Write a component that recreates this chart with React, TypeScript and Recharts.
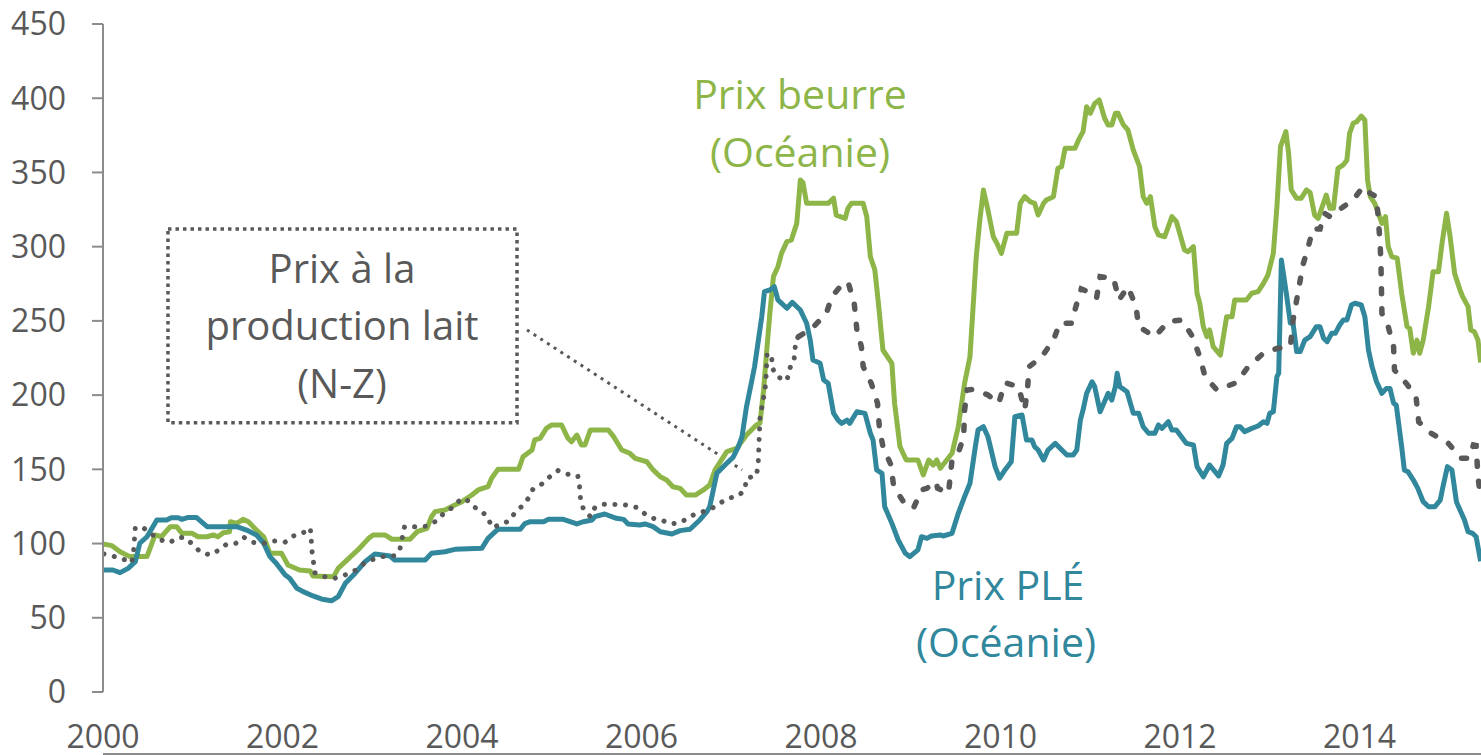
import React from "react";
import { LineChart, Line, XAxis, YAxis, ReferenceArea, ReferenceLine } from "recharts";

// Prix beurre (Océanie) : [année, indice]
const butter: [number, number][] = [
  [2000.0, 99.7], [2000.1, 98.6], [2000.19, 94.5], [2000.3, 91.2], [2000.49, 91.2], [2000.58, 105.8],
  [2000.65, 104.6], [2000.75, 111.4], [2000.82, 111.4], [2000.88, 106.9], [2000.99, 106.9], [2001.06, 104.6],
  [2001.16, 104.6], [2001.23, 105.8], [2001.28, 104.6], [2001.34, 107.3], [2001.41, 108], [2001.42, 114.7],
  [2001.49, 113.6], [2001.56, 116.3], [2001.62, 114.7], [2001.71, 109.1], [2001.79, 104.6], [2001.86, 93.4],
  [2001.99, 93.4], [2002.06, 85.6], [2002.19, 82.2], [2002.31, 81.5], [2002.34, 78.1], [2002.57, 77.7],
  [2002.62, 83.3], [2002.7, 87.8], [2002.84, 95.7], [2002.96, 103.5], [2003.01, 105.8], [2003.14, 105.8],
  [2003.22, 102.9], [2003.42, 102.9], [2003.5, 108], [2003.61, 110.2], [2003.66, 118.1], [2003.7, 121.5],
  [2003.81, 122.6], [2003.92, 126], [2004.0, 128.2], [2004.11, 132.7], [2004.18, 136.1], [2004.29, 138.3],
  [2004.33, 144], [2004.4, 150], [2004.63, 150], [2004.68, 158.5], [2004.78, 163], [2004.81, 169.8],
  [2004.87, 170.9], [2004.94, 177.6], [2005.0, 179.9], [2005.11, 179.9], [2005.18, 170.9], [2005.22, 168.6],
  [2005.28, 173.1], [2005.33, 166.4], [2005.37, 166.4], [2005.43, 176.5], [2005.63, 176.5], [2005.69, 172],
  [2005.78, 163], [2005.87, 160.8], [2005.93, 157.4], [2006.06, 155.1], [2006.13, 149.6], [2006.21, 145],
  [2006.28, 142.8], [2006.35, 138.3], [2006.43, 137.2], [2006.5, 132.7], [2006.6, 132.7], [2006.69, 136.1],
  [2006.76, 139.4], [2006.82, 149.6], [2006.95, 161.9], [2007.06, 164.1], [2007.17, 173.1], [2007.28, 179.9],
  [2007.32, 181], [2007.36, 203], [2007.39, 225.9], [2007.43, 255], [2007.47, 279.8], [2007.52, 286.5],
  [2007.56, 295.5], [2007.62, 303.4], [2007.67, 304.5], [2007.73, 315.7], [2007.77, 344.9], [2007.8, 343],
  [2007.84, 329.2], [2008.08, 329.2], [2008.14, 332.6], [2008.17, 321.3], [2008.27, 319.1], [2008.3, 325.8],
  [2008.34, 329.2], [2008.47, 329.2], [2008.51, 320.2], [2008.55, 293.3], [2008.6, 284.3], [2008.64, 261.9],
  [2008.69, 230.4], [2008.79, 221.4], [2008.82, 194.5], [2008.88, 165.3], [2008.95, 156.3], [2009.08, 156.3],
  [2009.14, 146.2], [2009.2, 156.3], [2009.25, 152.9], [2009.29, 156.3], [2009.33, 150.7], [2009.46, 160.8],
  [2009.53, 178.7], [2009.6, 208], [2009.66, 225.9], [2009.73, 293.3], [2009.77, 318], [2009.81, 338.2],
  [2009.86, 324.7], [2009.92, 306.7], [2009.96, 302.3], [2010.01, 295.5], [2010.07, 309], [2010.18, 309],
  [2010.22, 329.2], [2010.27, 333.7], [2010.33, 330.3], [2010.38, 329.2], [2010.42, 321.3], [2010.48, 329.2],
  [2010.51, 331.4], [2010.59, 333.7], [2010.64, 352.8], [2010.68, 353.9], [2010.72, 366.3], [2010.83, 366.3],
  [2010.87, 371.9], [2010.92, 377.5], [2010.96, 394.3], [2011.0, 389.8], [2011.05, 396.5], [2011.1, 398.8],
  [2011.16, 386.5], [2011.2, 382], [2011.24, 382], [2011.28, 389.8], [2011.31, 389.8], [2011.37, 382],
  [2011.42, 378.6], [2011.48, 365.1], [2011.55, 353.9], [2011.59, 333.7], [2011.63, 329.2], [2011.67, 333.7],
  [2011.72, 313.5], [2011.76, 307.9], [2011.83, 306.7], [2011.91, 320.2], [2011.96, 316.8], [2012.05, 297.8],
  [2012.09, 296.6], [2012.15, 300], [2012.19, 268.6], [2012.22, 261.9], [2012.26, 246.1], [2012.3, 239.4],
  [2012.33, 243.9], [2012.37, 232.6], [2012.45, 227], [2012.52, 252.8], [2012.58, 252.8], [2012.61, 264.1],
  [2012.74, 264.1], [2012.8, 268.6], [2012.87, 269.7], [2012.93, 275.3], [2012.98, 280.9], [2013.04, 295.5],
  [2013.08, 326.9], [2013.12, 367.4], [2013.18, 377.5], [2013.21, 362.9], [2013.24, 338.2], [2013.3, 332.6],
  [2013.35, 332.6], [2013.41, 338.2], [2013.45, 336.5], [2013.5, 321.3], [2013.54, 319.1], [2013.63, 334.8],
  [2013.67, 325.8], [2013.71, 325.8], [2013.76, 352.8], [2013.82, 355.1], [2013.86, 358.4], [2013.89, 376.4],
  [2013.93, 383.1], [2013.97, 384.2], [2014.02, 388], [2014.06, 385.3], [2014.09, 344.9], [2014.12, 333.7],
  [2014.17, 329.2], [2014.21, 322.5], [2014.25, 315.7], [2014.29, 320.2], [2014.32, 300], [2014.36, 293.3],
  [2014.42, 292.2], [2014.47, 268.6], [2014.53, 246.1], [2014.56, 245], [2014.6, 228.2], [2014.64, 237.1],
  [2014.67, 228.2], [2014.71, 237.1], [2014.77, 259.6], [2014.82, 283.1], [2014.88, 283.1], [2014.92, 302.3],
  [2014.97, 322.5], [2015.01, 306.7], [2015.06, 282], [2015.12, 270.8], [2015.15, 266.3], [2015.21, 259.6],
  [2015.24, 243.9], [2015.28, 242.7], [2015.32, 237.1], [2015.35, 222],
];

// Prix PLÉ (Océanie)
const wmp: [number, number][] = [
  [2000.0, 82.2], [2000.11, 82.2], [2000.19, 80.4], [2000.28, 83.3], [2000.36, 87.8], [2000.41, 100.2],
  [2000.49, 104.6], [2000.6, 115.9], [2000.71, 115.9], [2000.76, 117.4], [2000.84, 117.4], [2000.88, 116.3],
  [2000.95, 117.6], [2001.04, 117.6], [2001.16, 111.4], [2001.49, 111.4], [2001.6, 109.1], [2001.71, 105.8],
  [2001.79, 100.2], [2001.86, 91.2], [2001.93, 86.7], [2002.03, 78.8], [2002.08, 76.6], [2002.16, 69.9],
  [2002.23, 67.6], [2002.34, 64.7], [2002.44, 62.5], [2002.55, 61.5], [2002.62, 64.2], [2002.7, 73.2],
  [2002.81, 80], [2002.92, 87.8], [2003.03, 93], [2003.2, 91.6], [2003.25, 88.9], [2003.59, 88.9],
  [2003.66, 93.4], [2003.81, 94.5], [2003.92, 96.1], [2004.22, 96.8], [2004.29, 103.5], [2004.35, 106.9],
  [2004.4, 109.6], [2004.65, 109.6], [2004.7, 113.5], [2004.76, 114.7], [2004.91, 114.7], [2004.96, 116.3],
  [2005.13, 116.3], [2005.28, 113.2], [2005.35, 114.7], [2005.45, 115.9], [2005.48, 118.1], [2005.59, 119.9],
  [2005.72, 117], [2005.8, 116.3], [2005.85, 113.2], [2005.98, 112.5], [2006.04, 113.2], [2006.13, 111.4],
  [2006.21, 108], [2006.34, 106.4], [2006.43, 108.7], [2006.54, 109.6], [2006.65, 115.9], [2006.73, 121.5],
  [2006.76, 124.8], [2006.8, 136.1], [2006.84, 147.3], [2006.95, 154.1], [2007.02, 158.1], [2007.08, 165.3],
  [2007.12, 172], [2007.17, 192.2], [2007.23, 210], [2007.26, 219.2], [2007.34, 252.8], [2007.37, 269.7],
  [2007.43, 270.8], [2007.48, 273], [2007.52, 264.1], [2007.62, 258.5], [2007.68, 262.5], [2007.77, 257.3],
  [2007.84, 248.4], [2007.88, 237.1], [2007.91, 223.7], [2007.99, 221.4], [2008.03, 210.2], [2008.08, 208],
  [2008.14, 187.8], [2008.19, 183.2], [2008.23, 181], [2008.29, 183.2], [2008.32, 181], [2008.4, 188.8],
  [2008.49, 187.7], [2008.55, 174.3], [2008.58, 169.8], [2008.62, 149.6], [2008.68, 147.3], [2008.71, 124.8],
  [2008.79, 113.6], [2008.86, 102.4], [2008.94, 93.4], [2008.99, 91.2], [2009.08, 95.7], [2009.12, 104.6],
  [2009.18, 103.5], [2009.23, 105.1], [2009.33, 105.8], [2009.36, 105.1], [2009.46, 106.9], [2009.53, 120.4],
  [2009.6, 131.6], [2009.66, 140.6], [2009.72, 165.3], [2009.75, 176.5], [2009.81, 178.7], [2009.86, 172],
  [2009.94, 151.8], [2009.99, 144], [2010.05, 149.6], [2010.12, 155.1], [2010.16, 185.5], [2010.24, 186.6],
  [2010.29, 169.8], [2010.35, 169.8], [2010.38, 165.3], [2010.42, 163], [2010.48, 156.3], [2010.53, 163],
  [2010.61, 167.5], [2010.74, 159.7], [2010.81, 159.7], [2010.85, 163], [2010.89, 183.2], [2010.92, 190],
  [2010.96, 201.2], [2011.02, 209], [2011.05, 205.7], [2011.11, 188.8], [2011.2, 201.2], [2011.24, 196.7],
  [2011.28, 205.7], [2011.3, 214.7], [2011.33, 205.7], [2011.41, 202.3], [2011.48, 187.7], [2011.54, 187.7],
  [2011.59, 178.7], [2011.65, 174.3], [2011.72, 174.3], [2011.76, 179.9], [2011.8, 177.6], [2011.87, 182.1],
  [2011.91, 176.5], [2011.96, 176.5], [2012.07, 167.5], [2012.15, 166.4], [2012.19, 151.8], [2012.26, 145],
  [2012.33, 152.9], [2012.43, 145.5], [2012.48, 152.9], [2012.52, 167.5], [2012.58, 170.9], [2012.63, 178.7],
  [2012.67, 178.7], [2012.72, 175.4], [2012.8, 177.6], [2012.87, 179.2], [2012.93, 182.1], [2012.97, 181],
  [2013.0, 187.7], [2013.04, 188.8], [2013.08, 212.4], [2013.1, 214.7], [2013.13, 291], [2013.19, 266.3],
  [2013.23, 248.4], [2013.26, 248.4], [2013.3, 229.3], [2013.34, 229.3], [2013.39, 237.1], [2013.45, 239.4],
  [2013.52, 246.1], [2013.56, 246.1], [2013.6, 238.3], [2013.64, 236], [2013.69, 241.6], [2013.73, 241.6],
  [2013.78, 247.2], [2013.82, 250.6], [2013.86, 250.6], [2013.91, 260.7], [2013.95, 261.9], [2014.02, 260.7],
  [2014.06, 252.8], [2014.1, 230.4], [2014.14, 219.2], [2014.19, 209], [2014.25, 201.2], [2014.3, 204.5],
  [2014.34, 204.5], [2014.38, 194.5], [2014.41, 193.3], [2014.47, 165.3], [2014.5, 149.6], [2014.54, 148.4],
  [2014.6, 142.8], [2014.65, 137.2], [2014.71, 128.2], [2014.77, 124.8], [2014.84, 124.8], [2014.9, 129.3],
  [2014.93, 138.3], [2014.98, 151.8], [2015.03, 149.6], [2015.08, 128.2], [2015.12, 122.6], [2015.17, 115.9],
  [2015.21, 108], [2015.26, 106.9], [2015.3, 104.6], [2015.35, 88],
];

// Prix à la production lait (N-Z), première partie (pointillés)
const milkEarly: [number, number][] = [
  [2000.01, 93], [2000.13, 91.2], [2000.25, 88.9], [2000.32, 87.1], [2000.34, 94.5], [2000.36, 110.7],
  [2000.44, 111], [2000.53, 106.9], [2000.62, 102.9], [2000.74, 100.6], [2000.84, 104], [2000.91, 104],
  [2001.0, 99.5], [2001.08, 94.5], [2001.19, 92.3], [2001.28, 95.2], [2001.38, 99.7], [2001.48, 100.2],
  [2001.57, 104.2], [2001.67, 100.8], [2001.79, 100.2], [2001.91, 101.7], [2002.03, 101], [2002.12, 105.1],
  [2002.23, 107.3], [2002.31, 110.5], [2002.33, 94.5], [2002.36, 80.4], [2002.47, 77.7], [2002.58, 76.6],
  [2002.72, 79.3], [2002.82, 82.2], [2002.91, 86.7], [2003.01, 89.4], [2003.12, 91.2], [2003.25, 91.8],
  [2003.31, 96.8], [2003.36, 111.4], [2003.49, 111.4], [2003.61, 111.8], [2003.72, 115.4], [2003.79, 119.9],
  [2003.89, 124.2], [2003.97, 128.9], [2004.04, 130.5], [2004.11, 125.5], [2004.21, 122.1], [2004.29, 117.7],
  [2004.33, 111], [2004.42, 112.5], [2004.53, 115.4], [2004.59, 120.8], [2004.67, 125.3], [2004.74, 130.5],
  [2004.79, 136.5], [2004.89, 140.1], [2004.97, 144.6], [2005.07, 149.1], [2005.18, 146.7], [2005.29, 145.7],
  [2005.31, 138.3], [2005.32, 130.5], [2005.35, 123.8], [2005.43, 118.1], [2005.48, 124.2], [2005.58, 126.4],
  [2005.7, 126.4], [2005.82, 126], [2005.94, 124.4], [2006.04, 119.9], [2006.13, 117], [2006.24, 115.4],
  [2006.34, 113.2], [2006.45, 114.7], [2006.55, 118.6], [2006.65, 120.8], [2006.77, 123.1], [2006.87, 127.1],
  [2006.97, 130.5], [2007.08, 132.2], [2007.15, 136.1], [2007.17, 144], [2007.28, 145.7], [2007.3, 152.9],
  [2007.31, 168.6], [2007.32, 184.4], [2007.34, 191.1], [2007.36, 197.9], [2007.38, 205.7], [2007.39, 213.6],
  [2007.4, 228.2], [2007.45, 225.9], [2007.46, 218], [2007.51, 212.4], [2007.62, 209.8], [2007.65, 217.4],
  [2007.68, 222.5], [2007.7, 223.7], [2007.72, 237.1], [2007.75, 239.4],
];

// Prix à la production lait (N-Z), seconde partie (tirets)
const milkLate: [number, number][] = [
  [2007.75, 239.4], [2007.9, 245], [2008.06, 255.1], [2008.12, 266.3], [2008.23, 274.2], [2008.3, 276.4],
  [2008.37, 261.9], [2008.4, 243.9], [2008.45, 232.6], [2008.47, 219.2], [2008.56, 208], [2008.63, 194.5],
  [2008.65, 178.7], [2008.69, 165.3], [2008.78, 152.9], [2008.81, 138.3], [2008.93, 127.1], [2009.03, 123.8],
  [2009.12, 136.1], [2009.18, 137.2], [2009.28, 141.7], [2009.3, 137.2], [2009.42, 133.9], [2009.44, 145],
  [2009.46, 156.3], [2009.54, 163], [2009.59, 172], [2009.6, 190], [2009.63, 203.5], [2009.7, 203.9],
  [2009.86, 200.1], [2009.98, 194.5], [2010.05, 208.4], [2010.2, 205.7], [2010.27, 190], [2010.3, 203.5],
  [2010.32, 219.2], [2010.46, 225.9], [2010.59, 237.1], [2010.66, 248.4], [2010.79, 248.4], [2010.84, 259.6],
  [2010.9, 271.5], [2010.96, 270], [2011.07, 265.2], [2011.11, 279.8], [2011.26, 278.7], [2011.32, 264.1],
  [2011.42, 273], [2011.51, 259.6], [2011.54, 246.1], [2011.72, 239.4], [2011.87, 249.5], [2012.02, 250.6],
  [2012.14, 239.4], [2012.22, 225.9], [2012.28, 212.4], [2012.41, 203.5], [2012.63, 208.4], [2012.76, 219.2],
  [2012.93, 228.2], [2013.08, 231.5], [2013.23, 232.6], [2013.26, 250.6], [2013.32, 270.8], [2013.37, 287.7],
  [2013.43, 300], [2013.48, 311.9], [2013.56, 311.9], [2013.61, 322.5], [2013.67, 320.2], [2013.82, 326.9],
  [2013.93, 331.4], [2014.04, 340.4], [2014.12, 335.9], [2014.19, 333.7], [2014.21, 318], [2014.23, 302.3],
  [2014.24, 286.5], [2014.245, 270.8], [2014.25, 255.1], [2014.32, 246.1], [2014.38, 232.6], [2014.39, 216.9],
  [2014.52, 208], [2014.63, 198.9], [2014.66, 182], [2014.8, 174.3], [2014.99, 167.5], [2015.13, 157.4],
  [2015.22, 157.4], [2015.27, 166.4], [2015.3, 166], [2015.32, 145], [2015.35, 131],
];

const yTicks = [0, 50, 100, 150, 200, 250, 300, 350, 400, 450];
const yearLabels = [2000, 2002, 2004, 2006, 2008, 2010, 2012, 2014];
const X_MIN = 2000;
const X_MAX = 2015.354;
const WEEKS_PER_TICK = 10;
const minorTicks: number[] = [];
for (let k = 0; X_MIN + (k * WEEKS_PER_TICK) / 52 <= X_MAX; k++) minorTicks.push(X_MIN + (k * WEEKS_PER_TICK) / 52);

const toRows = (a: [number, number][]) => a.map(([x, v]) => ({ x, v }));

const GREEN = "#8DB548";
const TEAL = "#31879C";
const GREY = "#595959";
const AXIS = "#8C8C8C";
const FONT = "'Open Sans', 'Noto Sans', sans-serif";

export default function App() {
  return (
    <div style={{ position: "absolute", left: 0, top: 0, width: 1481, height: 755, background: "#fff", overflow: "hidden" }}>
      <LineChart width={1481} height={755} margin={{ top: 24, right: 0, bottom: 0, left: 0 }}>
        <YAxis
          yAxisId="y"
          type="number"
          domain={[0, 450]}
          ticks={yTicks}
          width={103}
          tickSize={11}
          tickMargin={26}
          axisLine={{ stroke: AXIS, strokeWidth: 2 }}
          tickLine={{ stroke: AXIS, strokeWidth: 2 }}
          tick={{ fill: GREY, fontSize: 32, fontFamily: FONT }}
          interval={0}
        />
        <XAxis
          xAxisId="minor"
          dataKey="x"
          type="number"
          domain={[X_MIN, X_MAX]}
          allowDataOverflow
          ticks={minorTicks}
          interval={0}
          height={1}
          tickSize={11}
          tick={false}
          axisLine={{ stroke: AXIS, strokeWidth: 2 }}
          tickLine={{ stroke: AXIS, strokeWidth: 2 }}
        />
        <XAxis
          xAxisId="lab"
          dataKey="x"
          type="number"
          domain={[X_MIN, X_MAX]}
          allowDataOverflow
          ticks={yearLabels}
          interval={0}
          height={62}
          tickSize={0}
          tickMargin={33}
          axisLine={false}
          tickLine={false}
          tick={{ fill: GREY, fontSize: 32, fontFamily: FONT }}
        />
        <ReferenceArea
          xAxisId="minor"
          yAxisId="y"
          x1={2000.724}
          x2={2004.613}
          y1={181.4}
          y2={311.9}
          fill="none"
          fillOpacity={0}
          stroke={GREY}
          strokeWidth={3.5}
          strokeDasharray="3.5 4"
        />
        <ReferenceLine
          xAxisId="minor"
          yAxisId="y"
          segment={[{ x: 2004.724, y: 243.9 }, { x: 2007.12, y: 149.6 }]}
          stroke={GREY}
          strokeWidth={3}
          strokeDasharray="3 5"
        />
        <Line xAxisId="minor" yAxisId="y" data={toRows(butter)} dataKey="v" type="linear" dot={false} activeDot={false}
          stroke={GREEN} strokeWidth={5} strokeLinejoin="round" isAnimationActive={false} />
        <Line xAxisId="minor" yAxisId="y" data={toRows(wmp)} dataKey="v" type="linear" dot={false} activeDot={false}
          stroke={TEAL} strokeWidth={5} strokeLinejoin="round" isAnimationActive={false} />
        <Line xAxisId="minor" yAxisId="y" data={toRows(milkEarly)} dataKey="v" type="linear" dot={false} activeDot={false}
          stroke={GREY} strokeWidth={5} strokeLinecap="round" strokeDasharray="0.1 10.5" isAnimationActive={false} />
        <Line xAxisId="minor" yAxisId="y" data={toRows(milkLate)} dataKey="v" type="linear" dot={false} activeDot={false}
          stroke={GREY} strokeWidth={5.5} strokeLinecap="round" strokeDasharray="5 15" isAnimationActive={false} />
      </LineChart>
      <svg width={1481} height={755} style={{ position: "absolute", left: 0, top: 0, pointerEvents: "none" }}>
        <g fontFamily={FONT} fontSize={41} textAnchor="middle">
          <text x={800} y={109} fill={GREEN}>Prix beurre</text>
          <text x={800} y={167} fill={GREEN}>(Océanie)</text>
          <text x={1008} y={600} fill={TEAL}>Prix PLÉ</text>
          <text x={1006} y={657} fill={TEAL}>(Océanie)</text>
        </g>
        <g fontFamily={FONT} fontSize={40} textAnchor="middle" fill={GREY}>
          <text x={342} y={283}>Prix à la</text>
          <text x={342} y={340}>production lait</text>
          <text x={342} y={398}>(N-Z)</text>
        </g>
      </svg>
    </div>
  );
}
